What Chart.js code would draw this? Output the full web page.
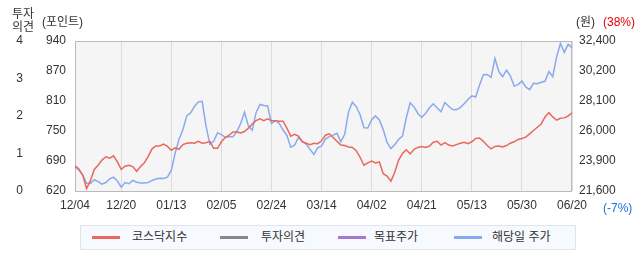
<!DOCTYPE html>
<html>
<head>
<meta charset="utf-8">
<script src="https://cdn.jsdelivr.net/npm/chart.js@4.4.1/dist/chart.umd.min.js"></script>
<style>
  body { margin: 0; background: #fff; font-family: "Liberation Sans", "Noto Sans CJK KR", sans-serif; }
  #wrap { position: relative; width: 642px; height: 268px; }
  canvas { position: absolute; left: 0; top: 0; }
  .lbl { position: absolute; font-size: 12px; color: #333; white-space: nowrap; line-height: 13px; }
  #legend { position: absolute; left: 80px; top: 225px; width: 494px; height: 23px; background: #f6f9fd; border: 1px solid #dbe6ee; }
  .item { position: absolute; top: 0; height: 23px; line-height: 23px; font-size: 12px; color: #333; white-space: nowrap; }
  .sw { position: absolute; top: 10px; width: 28px; height: 3px; }
</style>
</head>
<body>
<div id="wrap">
  <canvas id="stockChart" width="642" height="268"></canvas>
  <div class="lbl" style="left:12px;top:8px;">투자<br>의견</div>
  <div class="lbl" style="left:42px;top:16px;">(포인트)</div>
  <div class="lbl" style="left:576px;top:16px;">(원)</div>
  <div class="lbl" style="left:603px;top:16px;color:#e60000;">(38%)</div>
  <div class="lbl" style="left:603px;top:202px;color:#1a6fd8;">(-7%)</div>
  <div id="legend">
    <span class="sw" style="left:11px;background:#e8695c;"></span>
    <span class="item" style="left:51px;">코스닥지수</span>
    <span class="sw" style="left:139px;background:#888;"></span>
    <span class="item" style="left:180px;">투자의견</span>
    <span class="sw" style="left:257px;background:#a777d4;"></span>
    <span class="item" style="left:293px;">목표주가</span>
    <span class="sw" style="left:373px;background:#89aaee;"></span>
    <span class="item" style="left:411px;">해당일 주가</span>
  </div>
</div>
<script>
const tickDates = ["12/04", "12/20", "01/13", "02/05", "02/24", "03/14", "04/02", "04/21", "05/13", "05/30", "06/20"];
const tickIdx = [0, 12, 25, 38, 51, 64, 77, 90, 103, 116, 129];
const pointLabels = ["620", "690", "750", "810", "870", "940"];
const wonLabels = ["21,600", "23,900", "26,000", "28,100", "30,200", "32,400"];
const opinionLabels = ["0", "1", "2", "3", "4"];

// 코스닥지수 (포인트)
const kosdaq = [
  673, 665, 654, 625, 642, 666, 675, 686, 693, 690,
  695, 682, 666, 673, 675, 672, 662, 672, 680, 694,
  710, 716, 716, 720, 715, 707, 712, 709, 719, 722,
  723, 722, 726, 722, 723, 726, 711, 711, 725, 734,
  739, 746, 746, 744, 747, 754, 763, 770, 774, 770,
  774, 770, 770, 769, 769, 754, 737, 741, 737, 725,
  722, 719, 722, 721, 727, 739, 742, 734, 726, 718,
  717, 714, 713, 706, 692, 675, 680, 684, 680, 682,
  657, 652, 641, 660, 686, 700, 708, 699, 709, 713,
  715, 713, 716, 724, 726, 718, 723, 718, 716, 719,
  722, 724, 721, 725, 732, 733, 726, 717, 710, 715,
  716, 714, 717, 722, 725, 730, 732, 735, 742, 749,
  756, 763, 778, 787, 778, 771, 775, 776, 780, 787
];

// 해당일 주가 (원)
const price = [
  23440, 23200, 22760, 22150, 22140, 22410, 22280, 22090, 22210, 22470,
  22590, 22320, 21870, 22210, 22120, 22360, 22230, 22180, 22180, 22210,
  22360, 22460, 22510, 22500, 22600, 23100, 24330, 25320, 26010, 27010,
  27220, 27680, 28020, 28060, 26290, 24970, 25180, 25800, 25660, 25470,
  25500, 25500, 25880, 26460, 27270, 26290, 25980, 27240, 27830, 27750,
  27720, 26460, 26670, 26470, 25990, 25600, 24760, 24900, 25450, 25180,
  24980, 24600, 24230, 24700, 24840, 25340, 25520, 25620, 25750, 25140,
  25680, 27300, 27990, 27680, 27090, 26150, 26130, 26730, 27010, 26720,
  26020, 25100, 24650, 24930, 25320, 25550, 26890, 27950, 27660, 27180,
  26890, 27190, 27590, 27880, 27580, 27310, 27970, 27700, 27470, 27450,
  27610, 27880, 28190, 28450, 28370, 29230, 29970, 29990, 29790, 31140,
  30200, 29840, 30300, 29890, 29150, 29260, 29520, 29090, 28900, 29350,
  29330, 29430, 29500, 30200, 29830, 31260, 32220, 31580, 32160, 31910
];

const days = kosdaq.map((_, i) => i);
const tickFont = { family: "'Liberation Sans', 'Noto Sans CJK KR', sans-serif", size: 12 };

// evenly spaced ticks, labelled from the arrays above
const evenTicks = (min, max, n) => scale => {
  scale.ticks = [];
  for (let k = 0; k < n; k++) scale.ticks.push({ value: min + (max - min) * k / (n - 1) });
};

const frame = {
  id: "frame",
  beforeDraw(chart) {
    const { ctx, chartArea: a } = chart;
    ctx.save();
    ctx.fillStyle = "#f5f5f5";
    ctx.fillRect(a.left, a.top, a.right - a.left, a.bottom - a.top);
    ctx.restore();
  },
  beforeDatasetsDraw(chart) {
    const { ctx, chartArea: a } = chart;
    ctx.save();
    ctx.strokeStyle = "#bbb";
    ctx.lineWidth = 1;
    ctx.strokeRect(a.left + 0.5, a.top + 0.5, a.right - a.left - 1, a.bottom - a.top);
    ctx.restore();
  }
};

new Chart(document.getElementById("stockChart"), {
  type: "line",
  data: {
    labels: days,
    datasets: [
      { label: "코스닥지수", data: kosdaq, yAxisID: "yPoint", borderColor: "#e8695c", borderWidth: 1.5, pointRadius: 0, tension: 0 },
      { label: "투자의견", data: [], yAxisID: "yOpinion", borderColor: "#888", borderWidth: 1.5, pointRadius: 0 },
      { label: "목표주가", data: [], yAxisID: "yWon", borderColor: "#a777d4", borderWidth: 1.5, pointRadius: 0 },
      { label: "해당일 주가", data: price, yAxisID: "yWon", borderColor: "#89aaee", borderWidth: 1.5, pointRadius: 0, tension: 0 }
    ]
  },
  options: {
    responsive: false,
    animation: false,
    devicePixelRatio: 1,
    layout: { padding: { top: 41, bottom: 57, left: 0, right: 0 } },
    plugins: { legend: { display: false }, tooltip: { enabled: false } },
    scales: {
      x: {
        type: "linear",
        min: 0,
        max: 129,
        afterBuildTicks: s => { s.ticks = tickIdx.map(v => ({ value: v })); },
        afterFit: s => { s.height = 20; },
        ticks: {
          autoSkip: false,
          maxRotation: 0,
          padding: 7,
          color: "#333",
          font: tickFont,
          callback: v => tickDates[tickIdx.indexOf(v)]
        },
        grid: { color: "#dcdcdc", drawTicks: false },
        border: { display: false }
      },
      yOpinion: {
        type: "linear",
        position: "left",
        weight: 1,
        min: 0,
        max: 4,
        afterBuildTicks: evenTicks(0, 4, 5),
        afterFit: s => { s.width = 40; },
        ticks: { padding: 17, color: "#333", font: tickFont, callback: (v, i) => opinionLabels[i] },
        grid: { display: false, drawTicks: false },
        border: { display: false }
      },
      yPoint: {
        type: "linear",
        position: "left",
        weight: 0,
        min: 620,
        max: 940,
        afterBuildTicks: evenTicks(620, 940, 6),
        afterFit: s => { s.width = 35; },
        ticks: { padding: 9, color: "#333", font: tickFont, callback: (v, i) => pointLabels[i] },
        grid: { display: false, drawTicks: false },
        border: { display: false }
      },
      yWon: {
        type: "linear",
        position: "right",
        min: 21600,
        max: 32400,
        afterBuildTicks: evenTicks(21600, 32400, 6),
        afterFit: s => { s.width = 70; },
        ticks: { padding: 7, color: "#333", font: tickFont, callback: (v, i) => wonLabels[i] },
        grid: { display: false, drawTicks: false },
        border: { display: false }
      }
    }
  },
  plugins: [frame]
});
</script>
</body>
</html>
